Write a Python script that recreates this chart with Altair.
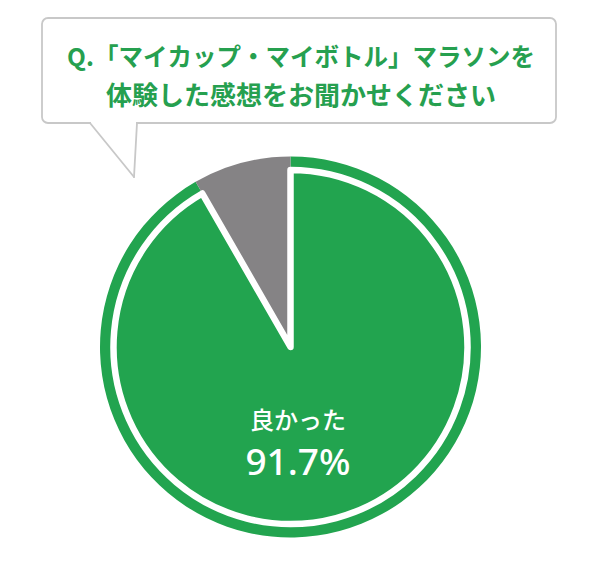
import altair as alt
import pandas as pd

# ---- data ----
labels = ["良かった", "その他"]
values = [91.7, 8.3]
colors = ["#22a44f", "#858385"]
title_lines = ["Q.「マイカップ・マイボトル」マラソンを", "体験した感想をお聞かせください"]

df = pd.DataFrame({"label": labels, "value": values, "idx": list(range(len(labels)))})
one = pd.DataFrame({"k": [0]})

W, H = 584, 556
CX, CY = 282.5, 339
R_OUT = 190.5
R_IN = 177

TEXT_GREEN = "#26a04f"
BORDER = "#c8c8c8"
FONT = "Noto Sans CJK JP"

# speech bubble
bubble = alt.Chart(one).mark_rect(
    fill="white", stroke=BORDER, strokeWidth=1.8, cornerRadius=6
).encode(x=alt.value(34), x2=alt.value(548), y=alt.value(10), y2=alt.value(115))

gap = alt.Chart(one).mark_rule(stroke="white", strokeWidth=4).encode(
    x=alt.value(83), x2=alt.value(128), y=alt.value(115), y2=alt.value(115)
)
tail_left = alt.Chart(one).mark_rule(stroke=BORDER, strokeWidth=1.8, strokeCap="round").encode(
    x=alt.value(82), x2=alt.value(126), y=alt.value(115), y2=alt.value(169)
)
tail_right = alt.Chart(one).mark_rule(stroke=BORDER, strokeWidth=1.8, strokeCap="round").encode(
    x=alt.value(129), x2=alt.value(126), y=alt.value(115), y2=alt.value(169)
)

t1 = alt.Chart(one).mark_text(
    font=FONT, fontSize=24.5, fontWeight="bold", color=TEXT_GREEN, align="center", baseline="middle"
).encode(x=alt.value(293), y=alt.value(51), text=alt.value(title_lines[0]))
t2 = alt.Chart(one).mark_text(
    font=FONT, fontSize=26, fontWeight="bold", color=TEXT_GREEN, align="center", baseline="middle"
).encode(x=alt.value(293), y=alt.value(89), text=alt.value(title_lines[1]))

# pie
base = alt.Chart(df).encode(
    theta=alt.Theta("value:Q", stack=True),
    order=alt.Order("idx:Q"),
)
outer = base.mark_arc(outerRadius=R_OUT).encode(
    x=alt.value(CX), y=alt.value(CY),
    color=alt.Color("label:N", scale=alt.Scale(domain=labels, range=colors), legend=None),
)
inner = base.mark_arc(
    outerRadius=R_IN, fill=colors[0], stroke="white", strokeWidth=6.5, strokeJoin="round"
).encode(
    x=alt.value(CX), y=alt.value(CY),
    opacity=alt.condition(alt.datum.idx == 0, alt.value(1), alt.value(0)),
)

lab1 = alt.Chart(one).mark_text(
    font=FONT, fontSize=24, fontWeight=500, color="white", align="center", baseline="middle"
).encode(x=alt.value(290), y=alt.value(414), text=alt.value(labels[0]))
lab2 = alt.Chart(one).mark_text(
    font="Noto Sans", fontSize=37, fontWeight=500, color="white", align="center", baseline="middle"
).encode(x=alt.value(290), y=alt.value(456), text=alt.value(f"{values[0]}%"))

chart = alt.layer(
    bubble, gap, tail_left, tail_right, t1, t2, outer, inner, lab1, lab2
).properties(
    width=W, height=H, autosize=alt.AutoSizeParams(type="none"), padding=0,
    background="white",
).configure_view(strokeWidth=0, stroke="transparent")

chart.save("out.html", embed_options={"renderer": "svg", "actions": False})
